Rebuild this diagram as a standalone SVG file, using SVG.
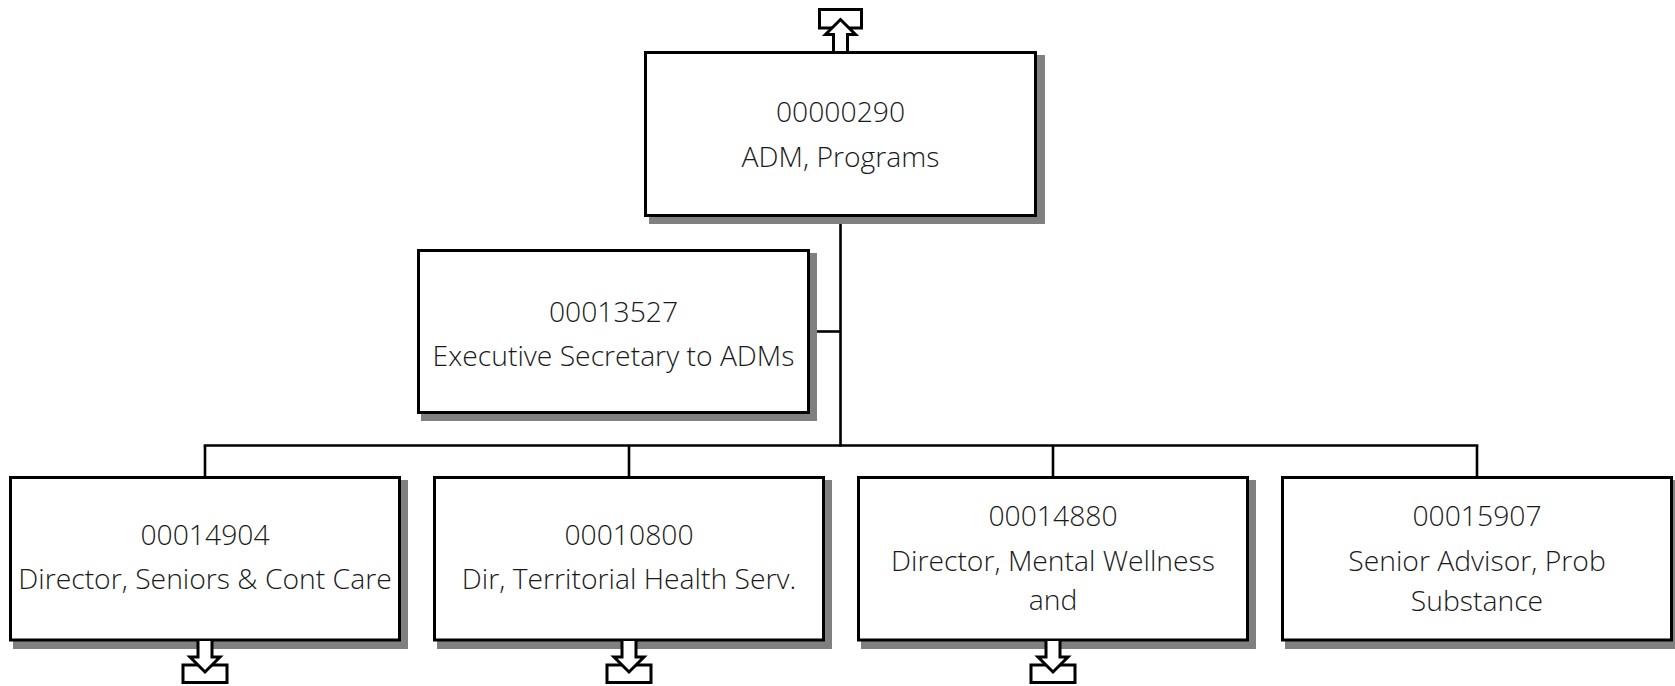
<svg xmlns="http://www.w3.org/2000/svg" width="1675" height="686" viewBox="0 0 1675 686">
<style>
.box{fill:#fff;stroke:#000;stroke-width:3}
.sh{fill:#808080}
.ln{fill:none;stroke:#000;stroke-width:2.6}
.ar{fill:#fff;stroke:#000;stroke-width:3;stroke-linejoin:miter}
.t{font-family:"Open Sans","Liberation Sans",sans-serif;font-weight:300;font-size:28.3px;fill:#1a1a1a;text-anchor:middle}
</style>
<rect width="1675" height="686" fill="#fff"/>
<g id="connectors">
<line class="ln" x1="840.5" y1="217" x2="840.5" y2="446.5"/>
<line class="ln" x1="810" y1="331.5" x2="840.5" y2="331.5"/>
<line class="ln" x1="203.7" y1="445.5" x2="1478.3" y2="445.5"/>
<line class="ln" x1="205" y1="445.5" x2="205" y2="476"/>
<line class="ln" x1="629" y1="445.5" x2="629" y2="476"/>
<line class="ln" x1="1053" y1="445.5" x2="1053" y2="476"/>
<line class="ln" x1="1477" y1="445.5" x2="1477" y2="476"/>
</g>
<g id="n00000290">
<rect class="sh" x="649" y="55" width="396" height="169"/>
<rect class="box" x="645.5" y="52.5" width="390" height="163"/>
<rect class="ar" x="819.5" y="9.5" width="42" height="18.5"/>
<path class="ar" d="M833.5,51 L833.5,34.5 L825.5,34.5 L840.5,19.5 L855.5,34.5 L847.5,34.5 L847.5,51"/>
<text class="t" x="840.5" y="122">00000290</text>
<text class="t" x="840.5" y="166.5">ADM, Programs</text>
</g>
<g id="n00013527">
<rect class="sh" x="421" y="253" width="396" height="168"/>
<rect class="box" x="418.5" y="250.5" width="390" height="162"/>
<text class="t" x="613.5" y="321.5">00013527</text>
<text class="t" x="613.5" y="365.5">Executive Secretary to ADMs</text>
</g>
<g id="n00014904">
<rect class="sh" x="13" y="480" width="395" height="169"/>
<rect class="box" x="10.5" y="477.5" width="389" height="162.5"/>
<rect class="ar" x="183" y="665" width="44" height="17.5"/>
<path class="ar" d="M198,641 L198,657 L190,657 L205,672 L220,657 L212,657 L212,641"/>
<text class="t" x="205" y="545">00014904</text>
<text class="t" x="205" y="589">Director, Seniors &amp; Cont Care</text>
</g>
<g id="n00010800">
<rect class="sh" x="437" y="480" width="395" height="169"/>
<rect class="box" x="434.5" y="477.5" width="389" height="162.5"/>
<rect class="ar" x="607" y="665" width="44" height="17.5"/>
<path class="ar" d="M622,641 L622,657 L614,657 L629,672 L644,657 L636,657 L636,641"/>
<text class="t" x="629" y="545">00010800</text>
<text class="t" x="629" y="589">Dir, Territorial Health Serv.</text>
</g>
<g id="n00014880">
<rect class="sh" x="861" y="480" width="395" height="169"/>
<rect class="box" x="858.5" y="477.5" width="389" height="162.5"/>
<rect class="ar" x="1031" y="665" width="44" height="17.5"/>
<path class="ar" d="M1046,641 L1046,657 L1038,657 L1053,672 L1068,657 L1060,657 L1060,641"/>
<text class="t" x="1053" y="526">00014880</text>
<text class="t" x="1053" y="571">Director, Mental Wellness</text>
<text class="t" x="1053" y="610">and</text>
</g>
<g id="n00015907">
<rect class="sh" x="1285" y="480" width="395" height="169"/>
<rect class="box" x="1282.5" y="477.5" width="389" height="162.5"/>
<text class="t" x="1477" y="526">00015907</text>
<text class="t" x="1477" y="571">Senior Advisor, Prob</text>
<text class="t" x="1477" y="611">Substance</text>
</g>
</svg>
